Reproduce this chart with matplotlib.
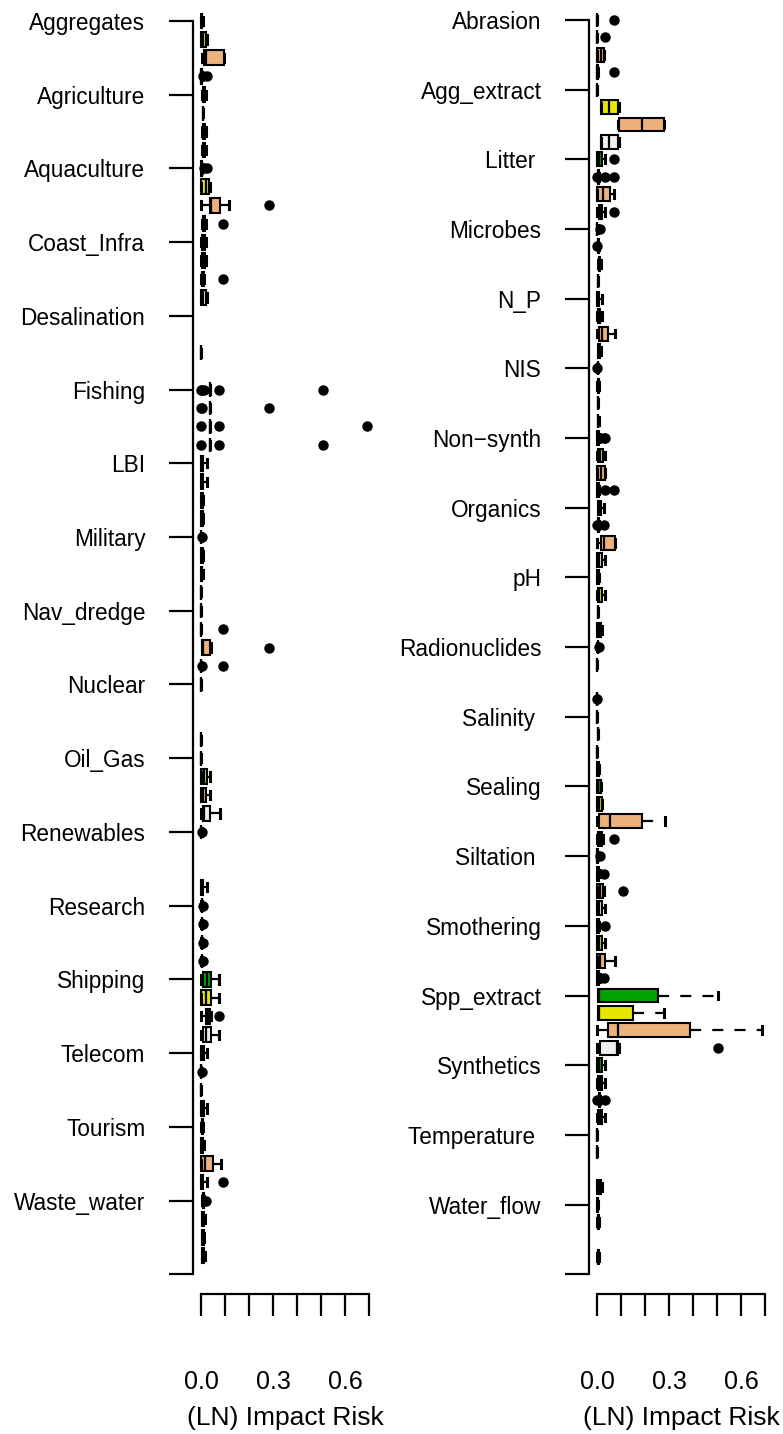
#Boxplots of impact risk by sector (left) and by pressure (right)

import numpy as np
import matplotlib.pyplot as plt

plt.rcParams['font.family'] = ['Liberation Sans', 'DejaVu Sans']

#box stats per group: (whislo, q1, median, q3, whishi, outliers); None = no box
sectors = ['Aggregates', 'Agriculture', 'Aquaculture', 'Coast_Infra', 'Desalination',
           'Fishing', 'LBI', 'Military', 'Nav_dredge', 'Nuclear', 'Oil_Gas',
           'Renewables', 'Research', 'Shipping', 'Telecom', 'Tourism', 'Waste_water']

sect_green = [(0.001, 0.002, 0.003, 0.005, 0.007, []),
              (0.006, 0.008, 0.012, 0.018, 0.02, []),
              (0.0, 0.002, 0.004, 0.005, 0.006, [0.012, 0.024]),
              (0.0, 0.003, 0.008, 0.018, 0.02, []),
              None,
              (0.037, 0.037, 0.037, 0.037, 0.037, [0.0, 0.005, 0.012, 0.076, 0.508]),
              (0.0, 0.001, 0.005, 0.01, 0.024, []),
              (0.0, 0.0, 0.001, 0.002, 0.003, [0.006]),
              (0.0, 0.0, 0.0, 0.001, 0.002, []),
              (0.0, 0.0, 0.0, 0.001, 0.001, []),
              (0.0, 0.0, 0.0, 0.001, 0.002, []),
              (0.0, 0.0, 0.001, 0.002, 0.003, [0.006]),
              (0.002, 0.003, 0.004, 0.005, 0.006, [0.009]),
              (0.0, 0.01, 0.024, 0.04, 0.075, []),
              (0.0, 0.001, 0.005, 0.012, 0.024, []),
              (0.001, 0.003, 0.005, 0.008, 0.01, []),
              (0.005, 0.007, 0.009, 0.011, 0.012, [0.022])]

sect_yellow = [(0.0, 0.002, 0.01, 0.022, 0.024, []),
               (0.008, 0.008, 0.008, 0.008, 0.009, []),
               (0.001, 0.002, 0.02, 0.035, 0.036, []),
               (0.001, 0.003, 0.01, 0.017, 0.019, []),
               None,
               (0.037, 0.037, 0.037, 0.037, 0.037, [0.0, 0.005, 0.285]),
               (0.0, 0.001, 0.005, 0.01, 0.024, []),
               (0.0, 0.001, 0.004, 0.008, 0.009, []),
               (0.0, 0.0, 0.0, 0.001, 0.001, [0.093]),
               None,
               (0.0, 0.002, 0.012, 0.024, 0.037, []),
               None,
               (0.002, 0.003, 0.004, 0.005, 0.006, [0.009]),
               (0.0, 0.0, 0.02, 0.04, 0.075, []),
               (0.0, 0.0, 0.0, 0.001, 0.002, [0.004]),
               (0.0, 0.002, 0.005, 0.01, 0.012, []),
               (0.004, 0.006, 0.01, 0.014, 0.016, [])]

sect_orange = [(0.006, 0.011, 0.022, 0.094, 0.096, []),
               (0.006, 0.008, 0.012, 0.018, 0.02, []),
               (0.0, 0.037, 0.042, 0.08, 0.118, [0.285]),
               (0.002, 0.003, 0.006, 0.012, 0.013, [0.092]),
               (0.0, 0.0, 0.0, 0.001, 0.001, []),
               (0.037, 0.037, 0.037, 0.037, 0.037, [0.0, 0.076, 0.692]),
               (0.0, 0.001, 0.004, 0.008, 0.01, []),
               (0.0, 0.001, 0.003, 0.006, 0.008, []),
               (0.003, 0.005, 0.01, 0.039, 0.04, [0.285]),
               None,
               (0.0, 0.001, 0.008, 0.019, 0.037, []),
               None,
               (0.002, 0.003, 0.004, 0.005, 0.006, [0.009]),
               (0.0, 0.021, 0.03, 0.039, 0.04, [0.076]),
               (0.0, 0.0, 0.0, 0.0, 0.001, []),
               (0.0, 0.001, 0.018, 0.051, 0.085, []),
               (0.004, 0.006, 0.008, 0.011, 0.012, [])]

sect_white = [(0.0, 0.001, 0.002, 0.004, 0.005, [0.009, 0.024]),
              (0.006, 0.008, 0.012, 0.018, 0.02, []),
              (0.006, 0.008, 0.012, 0.018, 0.02, [0.092]),
              (0.0, 0.002, 0.008, 0.02, 0.025, []),
              None,
              (0.037, 0.037, 0.037, 0.037, 0.037, [0.0, 0.076, 0.508]),
              (0.0, 0.001, 0.004, 0.008, 0.01, []),
              (0.0, 0.0, 0.0, 0.001, 0.001, []),
              (0.0, 0.0, 0.0, 0.001, 0.002, [0.003, 0.093]),
              (0.0, 0.0, 0.0, 0.001, 0.001, []),
              (0.0, 0.007, 0.012, 0.039, 0.08, []),
              (0.0, 0.001, 0.004, 0.01, 0.024, []),
              (0.002, 0.003, 0.004, 0.005, 0.006, [0.009]),
              (0.0, 0.01, 0.022, 0.04, 0.075, []),
              (0.0, 0.001, 0.005, 0.012, 0.024, []),
              (0.0, 0.001, 0.004, 0.01, 0.024, [0.093]),
              (0.004, 0.006, 0.009, 0.013, 0.015, [])]

pressures = ['Abrasion', 'Agg_extract', 'Litter ', 'Microbes', 'N_P', 'NIS',
             'Non\u2212synth', 'Organics', 'pH', 'Radionuclides', 'Salinity ',
             'Sealing', 'Siltation ', 'Smothering', 'Spp_extract', 'Synthetics',
             'Temperature ', 'Water_flow']

pres_green = [(0.0, 0.0, 0.0, 0.001, 0.001, [0.072]),
              (0.0, 0.0, 0.0, 0.001, 0.002, []),
              (0.0, 0.0, 0.01, 0.02, 0.033, [0.072]),
              (0.0, 0.0, 0.001, 0.002, 0.003, [0.013]),
              (0.0, 0.001, 0.004, 0.008, 0.02, []),
              (0.002, 0.003, 0.004, 0.005, 0.006, [0.0]),
              (0.0, 0.0, 0.003, 0.008, 0.012, [0.028, 0.035]),
              (0.004, 0.006, 0.012, 0.018, 0.03, []),
              (0.0, 0.001, 0.004, 0.008, 0.01, []),
              (0.002, 0.003, 0.004, 0.005, 0.006, [0.01]),
              (0.0, 0.0, 0.0, 0.001, 0.001, []),
              (0.0, 0.001, 0.006, 0.015, 0.016, []),
              (0.0, 0.0, 0.001, 0.003, 0.004, [0.013]),
              (0.0, 0.0, 0.004, 0.008, 0.01, [0.033]),
              (0.006, 0.006, 0.008, 0.256, 0.505, []),
              (0.0, 0.001, 0.008, 0.02, 0.035, []),
              (0.0, 0.0, 0.0, 0.001, 0.001, []),
              (0.001, 0.002, 0.003, 0.005, 0.006, [])]

pres_yellow = [(0.0, 0.0, 0.0, 0.001, 0.001, [0.033]),
               (0.015, 0.015, 0.051, 0.089, 0.09, []),
               (0.004, 0.005, 0.006, 0.007, 0.008, [0.0, 0.033, 0.072]),
               (0.004, 0.005, 0.006, 0.007, 0.008, [0.0]),
               (0.0, 0.003, 0.008, 0.012, 0.02, []),
               (0.002, 0.004, 0.006, 0.008, 0.01, []),
               (0.0, 0.004, 0.012, 0.026, 0.035, []),
               (0.004, 0.005, 0.006, 0.007, 0.008, [0.0, 0.03]),
               (0.0, 0.003, 0.01, 0.02, 0.033, []),
               (0.0, 0.0, 0.0, 0.001, 0.001, []),
               (0.004, 0.005, 0.005, 0.006, 0.006, []),
               (0.0, 0.001, 0.01, 0.02, 0.021, []),
               (0.0, 0.001, 0.005, 0.01, 0.012, [0.03]),
               (0.0, 0.002, 0.01, 0.02, 0.033, []),
               (0.006, 0.006, 0.01, 0.149, 0.28, []),
               (0.0, 0.005, 0.012, 0.02, 0.035, []),
               (0.0, 0.0, 0.0, 0.001, 0.001, []),
               (0.002, 0.003, 0.005, 0.007, 0.008, [])]

pres_orange = [(0.0, 0.001, 0.015, 0.03, 0.031, []),
               (0.089, 0.09, 0.186, 0.28, 0.281, []),
               (0.0, 0.0, 0.024, 0.054, 0.072, []),
               (0.005, 0.007, 0.01, 0.014, 0.016, []),
               (0.0, 0.01, 0.02, 0.047, 0.075, []),
               (0.004, 0.005, 0.005, 0.006, 0.006, []),
               (0.0, 0.001, 0.015, 0.033, 0.034, []),
               (0.0, 0.015, 0.03, 0.075, 0.076, []),
               (0.004, 0.005, 0.005, 0.006, 0.006, []),
               None,
               (0.0, 0.0, 0.0, 0.001, 0.001, []),
               (0.0, 0.008, 0.054, 0.186, 0.283, []),
               (0.0, 0.001, 0.012, 0.027, 0.028, [0.11]),
               (0.0, 0.001, 0.012, 0.033, 0.075, []),
               (0.0, 0.047, 0.089, 0.387, 0.689, []),
               (0.008, 0.009, 0.01, 0.011, 0.012, [0.0, 0.033]),
               None,
               None]

pres_white = [(0.0, 0.001, 0.002, 0.004, 0.005, [0.072]),
              (0.015, 0.015, 0.051, 0.089, 0.09, []),
              (0.0, 0.008, 0.012, 0.02, 0.033, [0.072]),
              (0.004, 0.005, 0.005, 0.006, 0.006, []),
              (0.004, 0.006, 0.008, 0.012, 0.015, []),
              (0.003, 0.004, 0.005, 0.006, 0.007, []),
              (0.0, 0.001, 0.004, 0.008, 0.01, [0.033, 0.072]),
              (0.0, 0.001, 0.008, 0.02, 0.035, []),
              (0.0, 0.001, 0.008, 0.018, 0.02, []),
              (0.0, 0.0, 0.0, 0.001, 0.001, [0.0]),
              (0.0, 0.002, 0.004, 0.007, 0.008, []),
              (0.0, 0.005, 0.012, 0.02, 0.025, [0.072]),
              (0.0, 0.002, 0.01, 0.02, 0.035, []),
              (0.0, 0.001, 0.004, 0.01, 0.012, [0.03]),
              (0.0, 0.012, 0.085, 0.089, 0.09, [0.505]),
              (0.0, 0.004, 0.012, 0.02, 0.035, []),
              (0.0, 0.002, 0.008, 0.015, 0.02, []),
              (0.002, 0.003, 0.005, 0.007, 0.008, [])]

box_cols = ['#00A300', '#E6E600', '#EDB27C', '#F0F0F0']

x_ticks = np.arange(0, 0.71, 0.1)
x_ticklabels = ['0.0', '', '', '0.3', '', '', '0.6', '']


def draw_panel(ax, names, series):
    for j, (ser, col) in enumerate(zip(series, box_cols)):
        stats = []
        pos = []
        for g, s in enumerate(ser):
            if s is None:
                continue
            stats.append(dict(whislo=s[0], q1=s[1], med=s[2], q3=s[3], whishi=s[4],
                              fliers=np.array(s[5])))
            pos.append(4 * g + j + 1)
        ax.bxp(stats, positions=pos, widths=0.8, capwidths=0.45, orientation='horizontal',
               patch_artist=True, manage_ticks=False,
               boxprops=dict(facecolor=col, edgecolor='black', linewidth=1.5),
               medianprops=dict(color='black', linewidth=1.6),
               whiskerprops=dict(color='black', linewidth=1.6, linestyle=(0, (5, 5))),
               capprops=dict(color='black', linewidth=2.2),
               flierprops=dict(marker='o', markerfacecolor='black', markeredgecolor='black',
                               markersize=6.5))
    n = len(names)
    ax.set_xlim(-0.0333, 0.75)
    for sp in ['top', 'right']:
        ax.spines[sp].set_visible(False)
    ax.spines['left'].set_linewidth(1.6)
    ax.spines['bottom'].set_linewidth(1.6)
    ax.spines['bottom'].set_position(('outward', 7))
    ax.spines['bottom'].set_bounds(0, 0.7)
    ax.spines['left'].set_bounds(1, 4 * n + 1)
    ax.set_yticks(np.arange(1, 4 * n + 2, 4))
    ax.set_yticklabels(names + [''], fontsize=16.3)
    ax.tick_params(axis='y', length=17.3, width=1.6, pad=17)
    ax.set_xticks(x_ticks)
    ax.set_xticklabels(x_ticklabels, fontsize=18)
    ax.tick_params(axis='x', length=15.8, width=1.6, pad=39)
    ax.set_xlabel('(LN) Impact Risk', fontsize=19, va='center')


W, H = 783, 1434
fig = plt.figure(figsize=(W / 100, H / 100), dpi=100)

# left panel: spine at x=193 px, zero at 201 px, 240 px per unit
axL = fig.add_axes([193 / W, 150 / H, (381 - 193) / W, 1284 / H])
draw_panel(axL, sectors, [sect_green, sect_yellow, sect_orange, sect_white])
axL.set_ylim(1 + (1284 - 21) / 18.43, 1 - 21 / 18.43)
axL.xaxis.set_label_coords((285 - 193) / (381 - 193), (16 - 150) / 1284)

# right panel: spine at x=589 px, zero at 597 px
axR = fig.add_axes([589 / W, 150 / H, (777 - 589) / W, 1284 / H])
draw_panel(axR, pressures, [pres_green, pres_yellow, pres_orange, pres_white])
axR.set_ylim(1 + (1284 - 20) / 17.42, 1 - 20 / 17.42)
axR.xaxis.set_label_coords((681 - 589) / (777 - 589), (16 - 150) / 1284)

fig.savefig('out.png', dpi=100)
